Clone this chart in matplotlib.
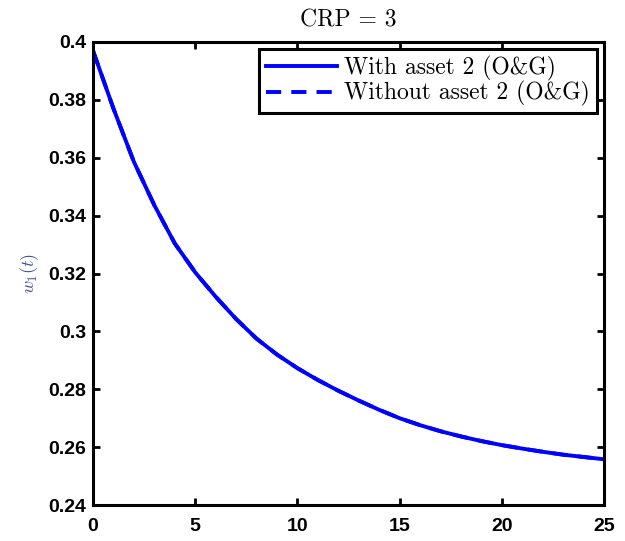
import matplotlib
matplotlib.use('Agg')
from matplotlib import pyplot as plt

# w1(t) over the horizon, read at integer times
t = list(range(0, 26))
w_with = [0.3970, 0.3770, 0.3586, 0.3436, 0.3304, 0.3204, 0.3120, 0.3043,
          0.2975, 0.2920, 0.2873, 0.2832, 0.2795, 0.2761, 0.2729, 0.2700,
          0.2676, 0.2655, 0.2637, 0.2621, 0.2607, 0.2595, 0.2584, 0.2574,
          0.2566, 0.2558]
w_without = list(w_with)

xticks = [0, 5, 10, 15, 20, 25]
yticks = [0.24, 0.26, 0.28, 0.3, 0.32, 0.34, 0.36, 0.38, 0.4]
yticklabels = ['0.24', '0.26', '0.28', '0.3', '0.32', '0.34', '0.36', '0.38', '0.4']


def main():
    plt.rcParams['mathtext.fontset'] = 'cm'
    plt.rcParams['font.family'] = ['Liberation Sans', 'DejaVu Sans']

    fig = plt.figure(figsize=(6.25, 5.41), dpi=100)
    ax = fig.add_axes([0.1488, 0.0665, 0.8176, 0.8559])

    ax.plot(t, w_with, color='#0000ff', lw=2.8, ls='-',
            label='With asset 2 (O&G)')
    ax.plot(t, w_without, color='#0000ff', lw=2.8, dashes=(3.9, 2.6),
            label='Without asset 2 (O&G)')

    ax.set_xlim(0, 25)
    ax.set_ylim(0.24, 0.4)
    ax.set_xticks(xticks)
    ax.set_yticks(yticks)
    ax.set_yticklabels(yticklabels)
    ax.tick_params(direction='in', length=5, width=2, labelsize=14,
                   top=True, right=True)
    ax.tick_params(axis='x', pad=9)
    ax.tick_params(axis='y', pad=5)
    for lab in ax.get_xticklabels() + ax.get_yticklabels():
        lab.set_fontweight('bold')
    for s in ax.spines.values():
        s.set_linewidth(2.2)

    ax.set_title('CRP = 3', fontsize=17, pad=11, family='cmr10')
    ax.set_ylabel(r'$w_1(t)$', fontsize=13, color='#3d4f86', labelpad=5)

    leg = ax.legend(loc='upper right', prop={'family': 'cmr10', 'size': 17},
                    frameon=True, fancybox=False,
                    borderpad=0.3, handlelength=3.0, handletextpad=0.3,
                    labelspacing=0.0, borderaxespad=0.3)
    leg.get_frame().set_edgecolor('black')
    leg.get_frame().set_linewidth(2.2)
    leg.get_frame().set_alpha(1)

    fig.savefig('out.png', dpi=100)


if __name__ == '__main__':
    main()
